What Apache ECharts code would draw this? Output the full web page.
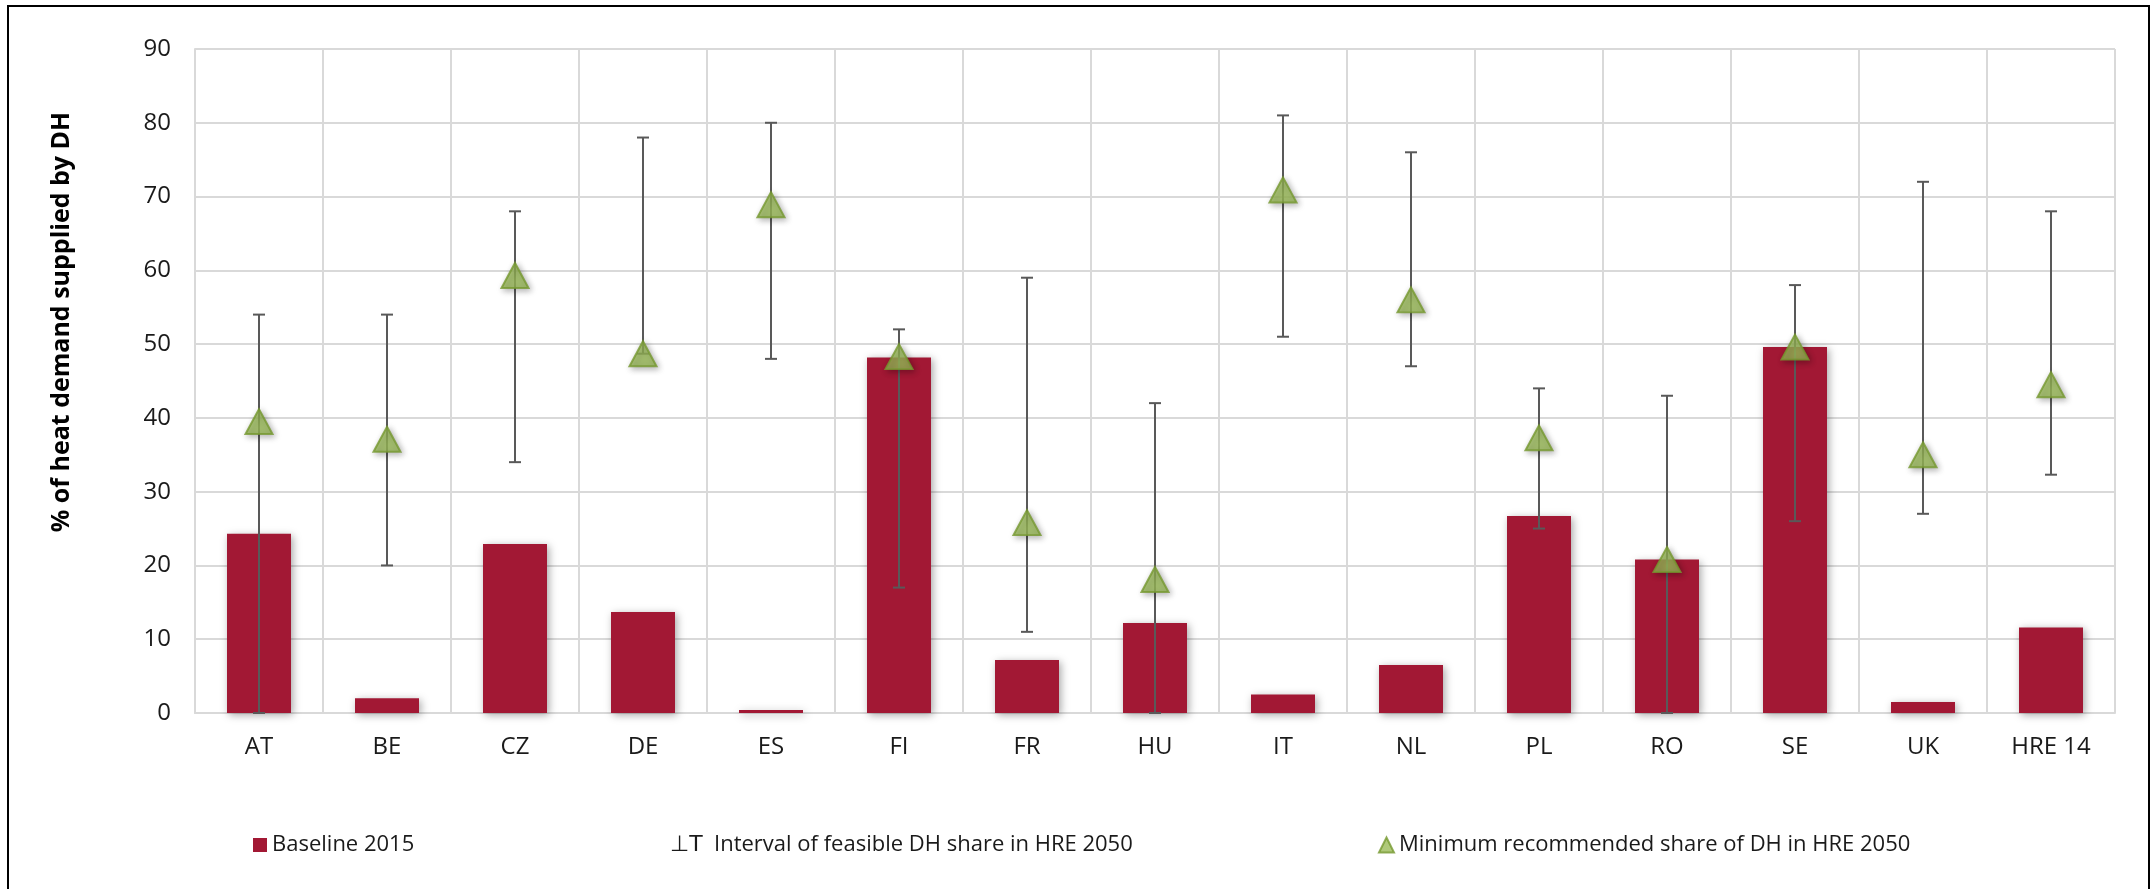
<!DOCTYPE html>
<html>
<head>
<meta charset="utf-8">
<script src="https://cdn.jsdelivr.net/npm/echarts@6/dist/echarts.min.js"></script>
<style>
html,body{margin:0;padding:0;background:#fff;}
#chart{width:2151px;height:889px;}
</style>
</head>
<body>
<div id="chart"></div>
<script>
const categories = ['AT','BE','CZ','DE','ES','FI','FR','HU','IT','NL','PL','RO','SE','UK','HRE 14'];
const baseline2015 = [24.3, 2.0, 22.9, 13.7, 0.4, 48.2, 7.2, 12.2, 2.5, 6.5, 26.7, 20.8, 49.6, 1.5, 11.6];
const minRecommended = [39.5, 37.1, 59.3, 48.7, 68.9, 48.3, 25.8, 18.1, 70.9, 56.0, 37.3, 20.8, 49.6, 35.0, 44.5];
const intervalLow = [0, 20, 34, 48.7, 48, 17, 11, 0, 51, 47, 25, 0, 26, 27, 32.3];
const intervalHigh = [54, 54, 68, 78, 80, 52, 59, 42, 81, 76, 44, 43, 58, 72, 68];
const yTicks = {min: 0, max: 90, interval: 10};

const FONT = '"Open Sans", "Noto Sans", sans-serif';
const nameBar = 'Baseline 2015';
const nameInt = 'Interval of feasible DH share in HRE 2050';
const nameTri = 'Minimum recommended share of DH in HRE 2050';

const intervalData = categories.map((c, i) => [i, intervalLow[i], intervalHigh[i]]);

const chart = echarts.init(document.getElementById('chart'));
chart.setOption({
  backgroundColor: '#ffffff',
  animation: false,
  textStyle: {fontFamily: FONT},
  grid: {left: 195, right: 36, top: 49, bottom: 176, containLabel: false},
  graphic: [
    {type: 'rect', z: 100, silent: true,
     shape: {x: 8, y: 6, width: 2141, height: 920},
     style: {fill: 'none', stroke: '#000000', lineWidth: 2}},
    {type: 'text', x: 62, y: 322, rotation: Math.PI / 2, silent: true,
     style: {text: '% of heat demand supplied by DH', fill: '#000000',
             font: 'bold 25px ' + FONT, textAlign: 'center', textVerticalAlign: 'middle'}}
  ],
  legend: [
    {left: 248, top: 829, itemWidth: 14, itemHeight: 14, data: [{name: nameBar, icon: 'rect'}],
     textStyle: {fontSize: 22, color: '#1a1a1a', fontFamily: FONT}},
    {left: 646, top: 829, itemWidth: 14, itemHeight: 14, data: [{name: nameInt, icon: 'none'}],
     formatter: n => '{g|\u22A5T}  ' + n,
     textStyle: {fontSize: 22, color: '#1a1a1a', fontFamily: FONT,
                 rich: {g: {fontSize: 22, color: '#1a1a1a', fontFamily: 'DejaVu Sans'}}}},
    {left: 1373, top: 829, itemWidth: 15, itemHeight: 15, data: [{name: nameTri, icon: 'triangle'}],
     textStyle: {fontSize: 22, color: '#1a1a1a', fontFamily: FONT}}
  ],
  xAxis: {
    type: 'category',
    data: categories,
    axisLine: {show: true, lineStyle: {color: '#d9d9d9', width: 2}},
    axisTick: {show: false},
    axisLabel: {fontSize: 24, color: '#1a1a1a', margin: 22, fontFamily: FONT},
    splitLine: {show: true, interval: 0, lineStyle: {color: '#d9d9d9', width: 2}}
  },
  yAxis: {
    type: 'value',
    min: yTicks.min, max: yTicks.max, interval: yTicks.interval,
    axisLine: {show: true, lineStyle: {color: '#d9d9d9', width: 2}},
    axisTick: {show: false},
    axisLabel: {fontSize: 24, color: '#1a1a1a', margin: 24, fontFamily: FONT},
    splitLine: {show: true, lineStyle: {color: '#d9d9d9', width: 2}}
  },
  series: [
    {
      name: nameBar,
      type: 'bar',
      data: baseline2015,
      barWidth: '50%',
      z: 2,
      itemStyle: {color: '#a21834', shadowBlur: 8, shadowColor: 'rgba(0,0,0,0.35)', shadowOffsetX: 2, shadowOffsetY: 2}
    },
    {
      name: nameInt,
      type: 'custom',
      data: intervalData,
      z: 3,
      itemStyle: {color: '#595959'},
      renderItem: function (params, api) {
        const x = api.value(0);
        const lo = api.coord([x, api.value(1)]);
        const hi = api.coord([x, api.value(2)]);
        const h = 6;
        const st = {stroke: '#595959', lineWidth: 2, fill: 'none'};
        return {
          type: 'group',
          children: [
            {type: 'line', shape: {x1: lo[0], y1: lo[1], x2: hi[0], y2: hi[1]}, style: st},
            {type: 'line', shape: {x1: hi[0] - h, y1: hi[1], x2: hi[0] + h, y2: hi[1]}, style: st},
            {type: 'line', shape: {x1: lo[0] - h, y1: lo[1], x2: lo[0] + h, y2: lo[1]}, style: st}
          ]
        };
      }
    },
    {
      name: nameTri,
      type: 'scatter',
      data: minRecommended,
      symbol: 'triangle',
      symbolSize: [27, 25],
      z: 4,
      itemStyle: {color: '#9bbb59', borderColor: '#76982f', borderWidth: 2,
                  shadowBlur: 6, shadowColor: 'rgba(0,0,0,0.35)', shadowOffsetX: 2, shadowOffsetY: 2}
    }
  ]
});
</script>
</body>
</html>
